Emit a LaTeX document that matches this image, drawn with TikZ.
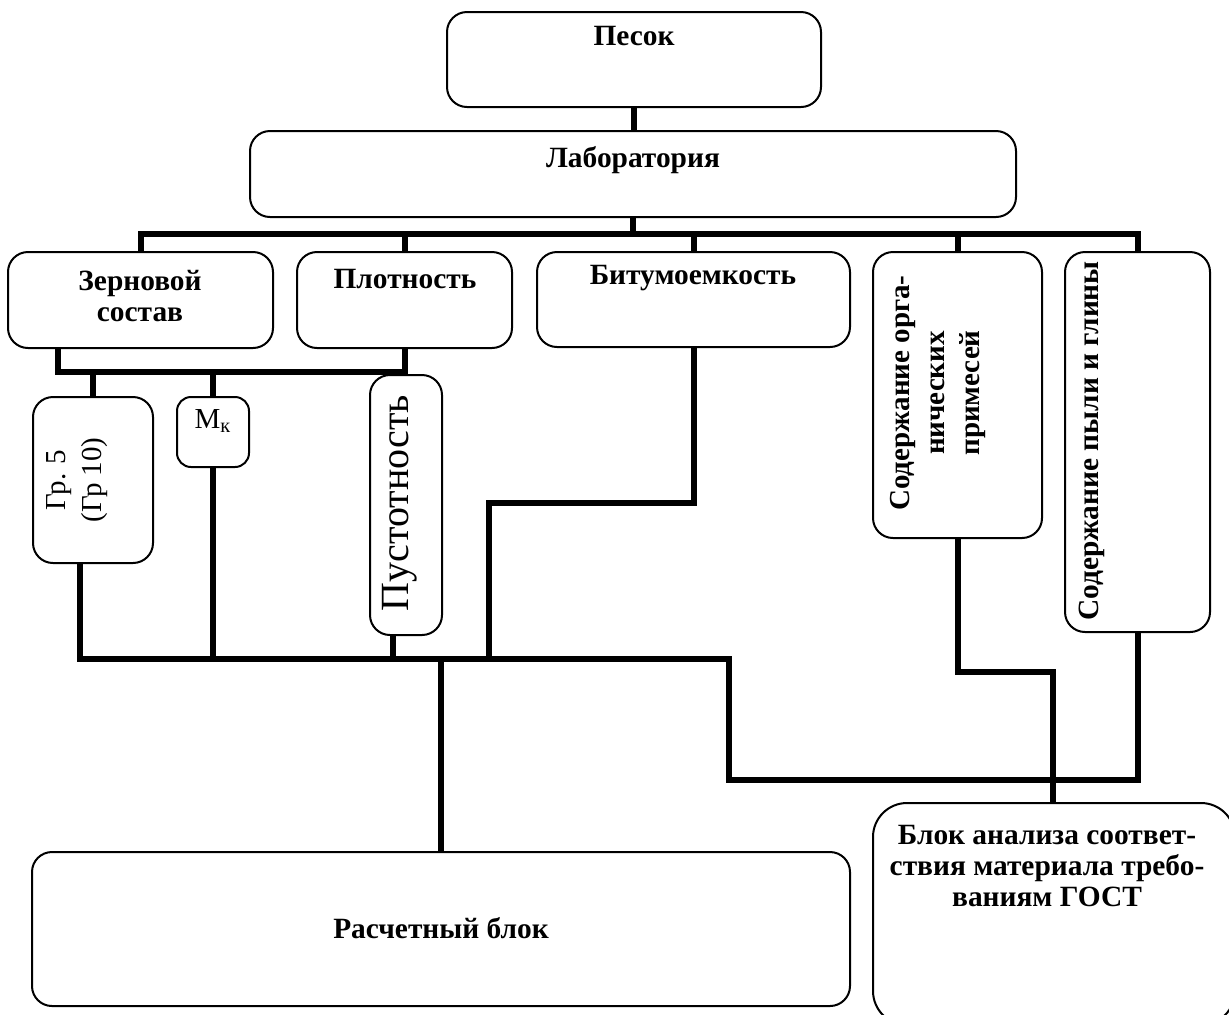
\documentclass[tikz,border=0pt]{standalone}
\usepackage{fontspec}
\setmainfont{Liberation Serif}

\tikzset{
  box/.style={draw, line width=1pt, rounded corners=10pt, inner sep=0pt},
  wire/.style={line width=3pt},
  txt/.style={font=\bfseries\fontsize{14.7}{15.5}\selectfont, align=center, inner sep=0pt},
  thin/.style={font=\fontsize{14.5}{18}\selectfont, align=center, inner sep=0pt}
}

\begin{document}
\begin{tikzpicture}[x=0.5pt,y=-0.5pt]
    \clip (0,0) rectangle (1229,1014);

    % boxes
    \node[box, minimum width=187pt, minimum height=47.5pt] (pesok) at (634,59.5) {};
    \node[box, minimum width=383pt, minimum height=43pt]   (lab)   at (633,174)  {};

    \node[box, minimum width=132.5pt, minimum height=48pt] (zern)  at (140.5,300)  {};
    \node[box, minimum width=107.5pt, minimum height=48pt] (plot)  at (404.5,300)  {};
    \node[box, minimum width=156.5pt, minimum height=47.5pt] (bitum) at (693.5,299.5) {};
    \node[box, minimum width=84.5pt, minimum height=143pt] (orga)  at (957.5,395)  {};
    \node[box, minimum width=72.5pt, minimum height=190pt] (pyl)   at (1137.5,442) {};

    \node[box, minimum width=60pt, minimum height=83pt]    (gr)    at (93,480)  {};
    \node[box, rounded corners=7pt, minimum width=36pt, minimum height=35pt] (mk) at (213,432) {};
    \node[box, minimum width=36pt, minimum height=130pt]   (pust)  at (406,505) {};

    \node[box, minimum width=409pt, minimum height=77pt]   (rasch) at (441,929)  {};
    \node[box, rounded corners=17pt, minimum width=181pt, minimum height=111pt] (gost) at (1054,914) {};

    % texts
    \node[txt] (pesokT) at (634,36)  {Песок};
    \node[txt] (labT)   at (633,160) {Лаборатория};
    \node[txt] (zernT)  at (140,296) {Зерновой\\состав};
    \node[txt] (plotT)  at (405,279) {Плотность};
    \node[txt] (bitumT) at (693,278) {Битумоемкость};
    \node[txt, rotate=90, font=\bfseries\fontsize{14.5}{17.5}\selectfont] (orgaT) at (938,393)
        {Содержание орга-\\нических\\примесей};
    \node[txt, rotate=90] (pylT) at (1092,441) {Содержание пыли и глины};
    \node[thin, rotate=90] (grT) at (77,480) {Гр. 5\\(Гр 10)};
    \node[thin] (mkT) at (213,421) {М\textsubscript{к}};
    \node[thin, rotate=90, font=\fontsize{20}{24}\selectfont] (pustT) at (400,503) {Пустотность};
    \node[txt] (raschT) at (441,928) {Расчетный блок};
    \node[txt]  (gostT) at (1047,866) {Блок анализа соответ-\\ствия материала требо-\\ваниям ГОСТ};

    % connectors
    \coordinate (bus)   at (0,234);
    \coordinate (sub)   at (58,372);
    \coordinate (low)   at (80,659);
    \coordinate (pdrop) at (393,0);
    \coordinate (bend)  at (489,503);
    \coordinate (turn)  at (729,780);
    \coordinate (jog)   at (1053,672);

    \draw[wire] (pesok.south) -- (pesok.south |- lab.north);
    \draw[wire] (lab.south) -- (lab.south |- bus);
    \draw[wire] (zern.north) -- (zern.north |- bus) -- (pyl.north |- bus) -- (pyl.north);
    \foreach \n in {plot,bitum,orga}
      \draw[wire] (\n.north) -- (\n.north |- bus);

    \draw[wire] (zern.south -| sub) -- (sub) -- (sub -| plot.south);
    \draw[wire] (plot.south) -- (plot.south |- pust.north);
    \foreach \n in {gr,mk}
      \draw[wire] (\n.north) -- (\n.north |- sub);

    \draw[wire] (gr.south -| low) -- (low) -- (low -| turn) -- (turn) -- (turn -| pyl.south) -- (pyl.south);
    \draw[wire] (mk.south) -- (mk.south |- low);
    \draw[wire] (pust.south -| pdrop) -- (pdrop |- low);
    \draw[wire] (bitum.south) |- (bend) -- (bend |- low);
    \draw[wire] (rasch.north) -- (rasch.north |- low);
    \draw[wire] (orga.south) |- (jog) -- (jog |- gost.north);
\end{tikzpicture}
\end{document}
